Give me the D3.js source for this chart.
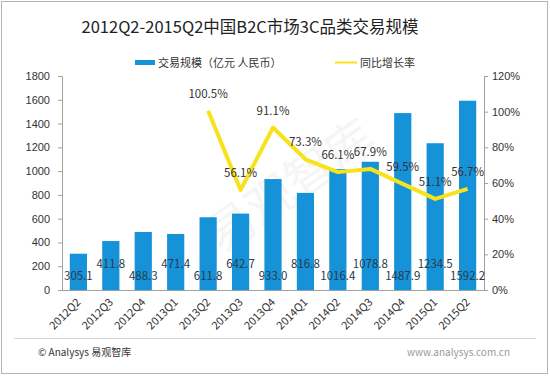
<!DOCTYPE html>
<html>
<head>
<meta charset="utf-8">
<script src="https://cdn.jsdelivr.net/npm/d3@7"></script>
<style>
  body { margin: 0; background: #fff; }
  svg { font-family: "Microsoft YaHei", "Noto Sans CJK SC", "Noto Sans", sans-serif; }
</style>
</head>
<body>
<svg id="chart" width="550" height="376"></svg>
<script>
// ----- Data -----
const quarters = ["2012Q2", "2012Q3", "2012Q4", "2013Q1", "2013Q2", "2013Q3", "2013Q4",
  "2014Q1", "2014Q2", "2014Q3", "2014Q4", "2015Q1", "2015Q2"];
const volume = [305.1, 411.8, 488.3, 471.4, 611.8, 642.7, 933.0, 816.8, 1016.4, 1078.8, 1487.9, 1234.5, 1592.2];
const growthQuarters = ["2013Q2", "2013Q3", "2013Q4", "2014Q1", "2014Q2", "2014Q3", "2014Q4", "2015Q1", "2015Q2"];
const growth = [100.5, 56.1, 91.1, 73.3, 66.1, 67.9, 59.5, 51.1, 56.7];
const leftTicks = [0, 200, 400, 600, 800, 1000, 1200, 1400, 1600, 1800];
const rightTicks = [0, 20, 40, 60, 80, 100, 120];

const BAR_COLOR = "#1592d8";
const LINE_COLOR = "#f7e21b";
const TEXT_COLOR = "#333";

const svg = d3.select("#chart");

// frame
svg.append("rect")
  .attr("x", 1.5).attr("y", 1.5).attr("width", 546).attr("height", 372)
  .attr("fill", "#fff").attr("stroke", "#b5b5b5");

// watermark
svg.append("text")
  .attr("transform", "translate(300,200) rotate(-35)")
  .attr("text-anchor", "middle")
  .attr("font-size", 48)
  .attr("fill", "#000").attr("opacity", 0.035)
  .text("易观智库");

// title
svg.append("text")
  .attr("x", 250).attr("y", 33)
  .attr("text-anchor", "middle")
  .attr("font-size", 16.5)
  .attr("fill", "#222")
  .text("2012Q2-2015Q2中国B2C市场3C品类交易规模");

// ----- Scales -----
const x = d3.scaleBand().domain(quarters).range([62, 484]).paddingInner(0.47).paddingOuter(0.24);
const yL = d3.scaleLinear().domain([0, 1800]).range([290, 76]);
const yR = d3.scaleLinear().domain([0, 120]).range([290, 76]);

// ----- Axes -----
const axisL = svg.append("g").attr("transform", "translate(62,0)")
  .call(d3.axisLeft(yL).tickValues(leftTicks).tickSize(4).tickPadding(8).tickFormat(d3.format("d")));
const axisR = svg.append("g").attr("transform", "translate(484,0)")
  .call(d3.axisRight(yR).tickValues(rightTicks).tickSize(4).tickPadding(4).tickFormat(d => d + "%"));
[axisL, axisR].forEach(g => {
  g.selectAll("path, line").attr("stroke", "#a0a0a0");
  g.selectAll("text").attr("fill", TEXT_COLOR).attr("font-size", 11);
});

// ----- Bars -----
svg.append("g").selectAll("rect").data(volume).join("rect")
  .attr("x", (d, i) => x(quarters[i]))
  .attr("width", x.bandwidth())
  .attr("y", d => yL(d))
  .attr("height", d => yL(0) - yL(d))
  .attr("fill", BAR_COLOR);

// x baseline
svg.append("line")
  .attr("x1", 62).attr("x2", 484).attr("y1", 290.5).attr("y2", 290.5)
  .attr("stroke", "#a0a0a0");

// x labels
const cx = q => x(q) + x.bandwidth() / 2;
svg.append("g").selectAll("text").data(quarters).join("text")
  .attr("transform", d => `translate(${cx(d) + 3},${303}) rotate(-45)`)
  .attr("text-anchor", "end")
  .attr("font-size", 11)
  .attr("fill", TEXT_COLOR)
  .text(d => d);

// bar value labels, alternating height
svg.append("g").selectAll("text").data(volume).join("text")
  .attr("x", (d, i) => cx(quarters[i]))
  .attr("y", (d, i) => i % 2 === 0 ? 280 : 268)
  .attr("text-anchor", "middle")
  .attr("font-size", 11.5)
  .attr("fill", "#2a3a4a")
  .text(d => d.toFixed(1));

// ----- Growth line -----
const line = d3.line()
  .x((d, i) => cx(growthQuarters[i]))
  .y(d => yR(d));
svg.append("path")
  .datum(growth)
  .attr("d", line)
  .attr("fill", "none")
  .attr("stroke", LINE_COLOR)
  .attr("stroke-width", 4)
  .attr("stroke-linejoin", "round");

svg.append("g").selectAll("text").data(growth).join("text")
  .attr("x", (d, i) => cx(growthQuarters[i]))
  .attr("y", d => yR(d) - 13)
  .attr("text-anchor", "middle")
  .attr("font-size", 11.5)
  .attr("fill", TEXT_COLOR)
  .text(d => d.toFixed(1) + "%");

// ----- Legend -----
const legend = svg.append("g").attr("font-size", 11).attr("fill", TEXT_COLOR);
legend.append("rect").attr("x", 135).attr("y", 60).attr("width", 20).attr("height", 5).attr("fill", BAR_COLOR);
legend.append("text").attr("x", 158).attr("y", 67).text("交易规模（亿元 人民币）");
legend.append("line").attr("x1", 335).attr("x2", 357).attr("y1", 62.5).attr("y2", 62.5)
  .attr("stroke", LINE_COLOR).attr("stroke-width", 2);
legend.append("text").attr("x", 360).attr("y", 67).text("同比增长率");

// ----- Footer -----
svg.append("line")
  .attr("x1", 14).attr("x2", 536).attr("y1", 338.5).attr("y2", 338.5)
  .attr("stroke", "#d5d5d5");
svg.append("text")
  .attr("x", 38).attr("y", 356)
  .attr("font-size", 10).attr("fill", TEXT_COLOR)
  .text("© Analysys 易观智库");
svg.append("text")
  .attr("x", 510).attr("y", 356)
  .attr("text-anchor", "end")
  .attr("font-size", 10).attr("fill", "#999")
  .text("www.analysys.com.cn");
</script>
</body>
</html>
